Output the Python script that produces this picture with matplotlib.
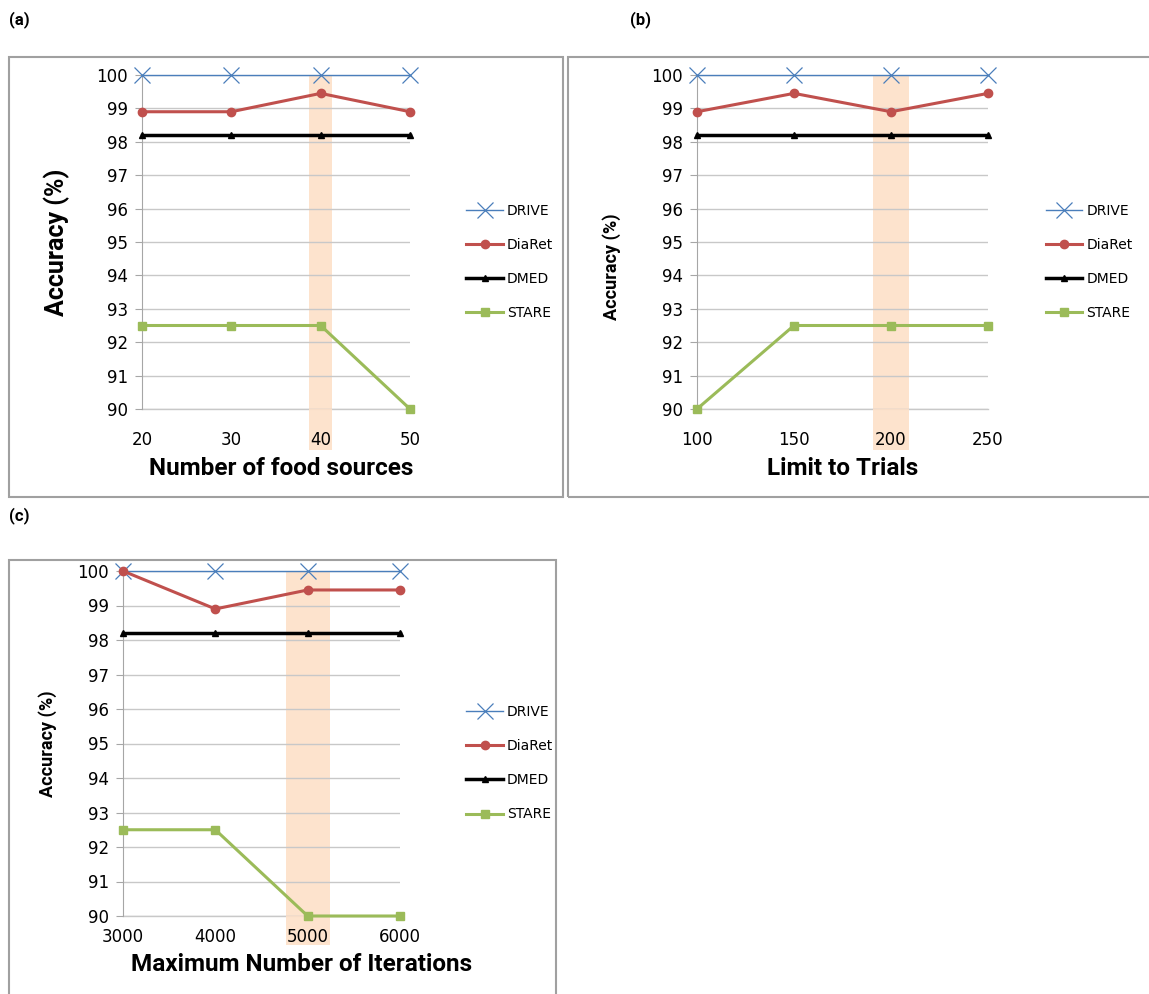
import matplotlib
matplotlib.use('Agg')
import matplotlib.pyplot as plt
from matplotlib.patches import Rectangle

plt.rcParams['font.family'] = ['DejaVu Sans']

# --- data ---
series_names = ['DRIVE', 'DiaRet', 'DMED', 'STARE']

x_a = [20, 30, 40, 50]
drive_a = [100, 100, 100, 100]
diaret_a = [98.9, 98.9, 99.45, 98.9]
dmed_a = [98.2, 98.2, 98.2, 98.2]
stare_a = [92.5, 92.5, 92.5, 90.0]

x_b = [100, 150, 200, 250]
drive_b = [100, 100, 100, 100]
diaret_b = [98.9, 99.45, 98.9, 99.45]
dmed_b = [98.2, 98.2, 98.2, 98.2]
stare_b = [90.0, 92.5, 92.5, 92.5]

x_c = [3000, 4000, 5000, 6000]
drive_c = [100, 100, 100, 100]
diaret_c = [100, 98.9, 99.45, 99.45]
dmed_c = [98.2, 98.2, 98.2, 98.2]
stare_c = [92.5, 92.5, 90.0, 90.0]

y_ticks = list(range(90, 101))

# highlighted (chosen) setting and half width of the band
best_a, half_a = 40, 1.3
best_b, half_b = 200, 9.5
best_c, half_c = 5000, 240

# --- styles ---
styles = {
    'DRIVE': dict(color='#4a7ebb', marker='x', ms=11, lw=1.0, mew=0.9),
    'DiaRet': dict(color='#c0504d', marker='o', ms=6, lw=2.2, mew=1),
    'DMED': dict(color='black', marker='^', ms=5, lw=2.5, mew=1),
    'STARE': dict(color='#9bbb59', marker='s', ms=6, lw=2.2, mew=1),
}
LABEL_FONT = ['Liberation Sans Narrow', 'Roboto', 'Liberation Sans', 'DejaVu Sans']

fig = plt.figure(figsize=(11.49, 9.94), dpi=100)


def draw_panel(rect, xs, ys_list, best, half, band_low, xlabel, xlabel_pos, ylabel_size,
               ylabel_pos, xtick_pad, leg_anchor, box, tag, tag_pos):
    ax = fig.add_axes(rect)
    ax.axvspan(best - half, best + half, ymin=band_low, ymax=1.0, color='#fde0c8',
               alpha=0.9, zorder=1, clip_on=False, lw=0)
    for name, ys in zip(series_names, ys_list):
        st = styles[name]
        ax.plot(xs, ys, color=st['color'], marker=st['marker'], ms=st['ms'], lw=st['lw'],
                mew=st['mew'], label=name, zorder=3, clip_on=False)
    ax.set_xlim(xs[0], xs[-1])
    ax.set_ylim(90, 100)
    ax.set_yticks(y_ticks)
    ax.set_xticks(xs)
    ax.yaxis.grid(True, color='#c8c8c8', lw=1.0, zorder=0)
    ax.axhline(90, color='#c8c8c8', lw=1.0, zorder=0.5, clip_on=False)
    for s in ['top', 'right', 'bottom']:
        ax.spines[s].set_visible(False)
    ax.spines['left'].set_color('#a6a6a6')
    ax.tick_params(axis='y', direction='out', length=5, color='#a6a6a6', pad=5, labelsize=12)
    ax.tick_params(axis='x', length=0, pad=xtick_pad, labelsize=12)
    ax.set_xlabel(xlabel, fontsize=17.5, fontweight='bold', family=LABEL_FONT)
    ax.xaxis.set_label_coords(*xlabel_pos)
    ax.set_ylabel('Accuracy (%)', fontsize=ylabel_size, fontweight='bold', family=LABEL_FONT,
                  va='center')
    ax.yaxis.set_label_coords(*ylabel_pos)
    ax.legend(loc='center left', bbox_to_anchor=leg_anchor, frameon=False, fontsize=10,
              handlelength=2.6, handletextpad=0.3, labelspacing=1.45, borderaxespad=0)
    x0, y0, x1, y1 = box
    fig.patches.append(Rectangle((x0 / 1149, 1 - y1 / 994), (x1 - x0) / 1149, (y1 - y0) / 994,
                                 transform=fig.transFigure, fill=False, ec='#a0a0a0', lw=1.5))
    fig.text(tag_pos[0] / 1149, 1 - tag_pos[1] / 994, tag, fontsize=12, fontweight='bold',
             family=LABEL_FONT, va='center')
    return ax


draw_panel([142 / 1149, 1 - 409 / 994, 268 / 1149, 334 / 994], x_a,
           [drive_a, diaret_a, dmed_a, stare_a], best_a, half_a, -0.123,
           'Number of food sources', (0.52, -0.143), 18, (-0.318, 0.50), 16, (1.19, 0.44),
           (9, 57, 563, 497), '(a)', (9, 20))

draw_panel([697 / 1149, 1 - 409 / 994, 291 / 1149, 334 / 994], x_b,
           [drive_b, diaret_b, dmed_b, stare_b], best_b, half_b, -0.123,
           'Limit to Trials', (0.5, -0.143), 13, (-0.292, 0.425), 16, (1.18, 0.44),
           (568, 57, 1160, 497), '(b)', (630, 20))

draw_panel([123 / 1149, 1 - 916 / 994, 277 / 1149, 345 / 994], x_c,
           [drive_c, diaret_c, dmed_c, stare_c], best_c, half_c, -0.085,
           'Maximum Number of Iterations', (0.643, -0.106), 13, (-0.274, 0.5), 9,
           (1.22, 0.443), (9, 560, 556, 1000), '(c)', (9, 516))

plt.savefig('out.png', dpi=100)
